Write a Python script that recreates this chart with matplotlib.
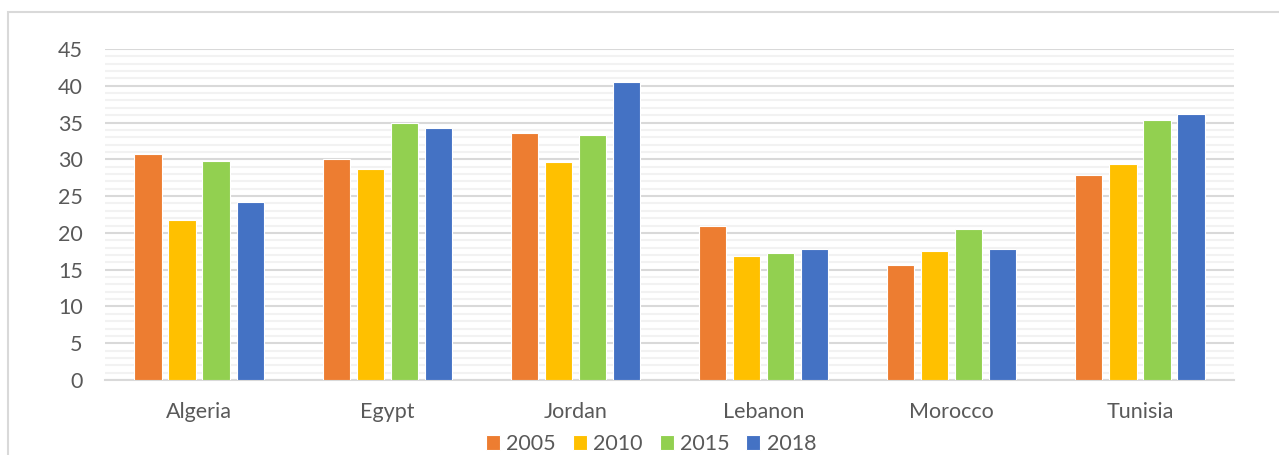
import matplotlib
matplotlib.use("Agg")
import matplotlib.pyplot as plt
from matplotlib.patches import Rectangle
from matplotlib.ticker import MultipleLocator
import numpy as np

countries = ["Algeria", "Egypt", "Jordan", "Lebanon", "Morocco", "Tunisia"]
years = ["2005", "2010", "2015", "2018"]
v2005 = [30.7, 30.0, 33.6, 20.9, 15.7, 27.9]
v2010 = [21.8, 28.7, 29.6, 16.8, 17.5, 29.4]
v2015 = [29.8, 34.9, 33.3, 17.2, 20.5, 35.3]
v2018 = [24.2, 34.3, 40.5, 17.8, 17.8, 36.2]
series = [v2005, v2010, v2015, v2018]
colors = ["#ED7D31", "#FFC000", "#92D050", "#4472C4"]

plt.rcParams['font.family'] = ['Lato', 'DejaVu Sans']
text_color = "#595959"
fs = 15.5

fig = plt.figure(figsize=(12.79, 4.55), dpi=100)
ax = fig.add_axes([105/1279, 1-380/455, (1234-105)/1279, (380-49)/455])

x = np.arange(len(countries))
pitch = 0.181
width = 0.145
for i, (vals, c, yr) in enumerate(zip(series, colors, years)):
    ax.bar(x + (i - 1.5) * pitch, vals, width=width, color=c, label=yr,
           edgecolor="white", linewidth=0.8, zorder=3)

ax.set_xlim(-0.5, len(countries) - 0.5)
ax.set_ylim(0, 45)
ax.yaxis.set_major_locator(MultipleLocator(5))
ax.yaxis.set_minor_locator(MultipleLocator(1))
ax.grid(axis='y', which='major', color="#D9D9D9", linewidth=1.5, zorder=1)
ax.grid(axis='y', which='minor', color="#F2F2F2", linewidth=1.5, zorder=0)
ax.set_axisbelow(True)
for s in ["top", "right", "left"]:
    ax.spines[s].set_visible(False)
ax.spines["bottom"].set_color("#D9D9D9")
ax.spines["bottom"].set_linewidth(1.5)
ax.set_xticks(x)
ax.set_xticklabels(countries)
ax.tick_params(axis='both', which='both', length=0, labelsize=fs, colors=text_color)
ax.tick_params(axis='y', pad=16)
ax.tick_params(axis='x', pad=16)

fig.legend(loc='center', bbox_to_anchor=(651/1279, 1-444/455), ncol=4, frameon=False,
           fontsize=fs, labelcolor=text_color, handlelength=0.65, handleheight=0.65,
           handletextpad=0.28, columnspacing=0.8, borderpad=0)

fig.patches.append(Rectangle((7.5/1279, -0.1), 1.2, 1 - 12.3/455 + 0.1,
                             transform=fig.transFigure, fill=False,
                             edgecolor="#D9D9D9", linewidth=1.5))

fig.savefig("out.png", dpi=100)
